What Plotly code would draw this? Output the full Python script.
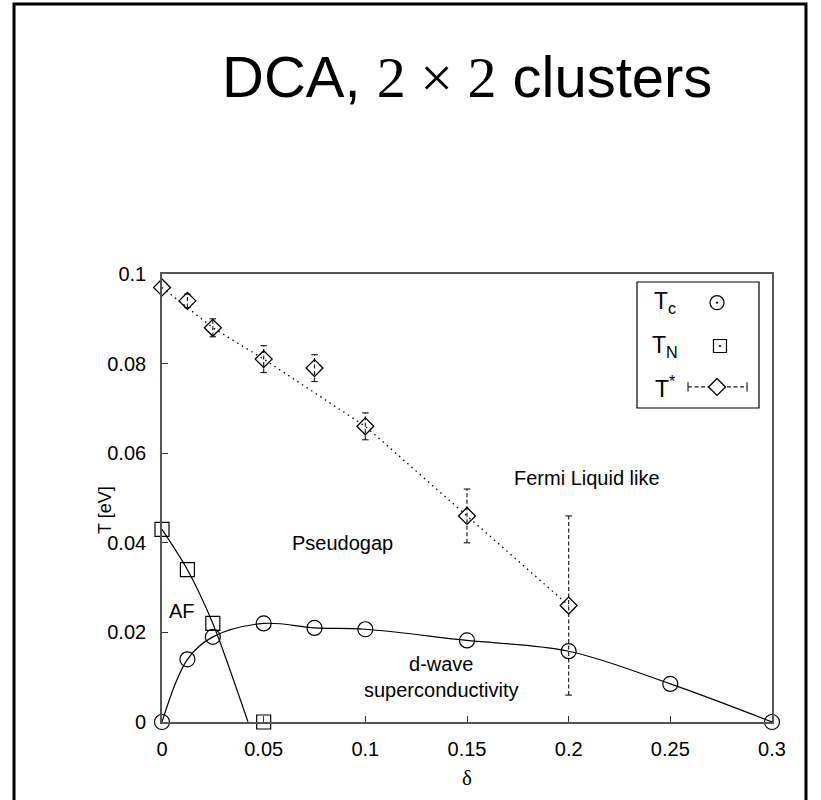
import plotly.graph_objects as go

# --- data -------------------------------------------------------------
# superconducting transition temperature T_c
TC_DELTA = [0.0, 0.0125, 0.025, 0.05, 0.075, 0.1, 0.15, 0.2, 0.25, 0.3]
TC_T = [0.0, 0.014, 0.019, 0.022, 0.021, 0.0207, 0.0182, 0.0158, 0.0085, 0.0]

# Neel temperature T_N
TN_DELTA = [0.0, 0.0125, 0.025, 0.05]
TN_T = [0.043, 0.034, 0.022, 0.0]
# fitted T_N curve (ends where it meets the axis)
TN_FIT_DELTA = [0.0, 0.0125, 0.025, 0.0423]
TN_FIT_T = [0.043, 0.034, 0.022, 0.0]

# pseudogap temperature T* with error bars
TS_DELTA = [0.0, 0.0125, 0.025, 0.05, 0.075, 0.1, 0.15, 0.2]
TS_T = [0.097, 0.094, 0.088, 0.081, 0.079, 0.066, 0.046, 0.026]
TS_ERR = [0.0, 0.0015, 0.002, 0.003, 0.003, 0.003, 0.006, 0.020]
# guide line for T*
TS_GUIDE_DELTA = [0.0, 0.025, 0.05, 0.1, 0.15, 0.2]
TS_GUIDE_T = [0.097, 0.088, 0.081, 0.066, 0.046, 0.026]

X_TICKS = [0, 0.05, 0.1, 0.15, 0.2, 0.25, 0.3]
X_TICK_TEXT = ["0", "0.05", "0.1", "0.15", "0.2", "0.25", "0.3"]
Y_TICKS = [0, 0.02, 0.04, 0.06, 0.08, 0.1]
Y_TICK_TEXT = ["0", "0.02", "0.04", "0.06", "0.08", "0.1"]

# --- styling ----------------------------------------------------------
SANS = "Liberation Sans, Helvetica, Arial, sans-serif"
SERIF = "Liberation Serif, Times New Roman, serif"
INK = "black"
FRAME = "#555555"
CAP_HALF = 0.0016  # half width of the error-bar caps, in delta units

fig = go.Figure()

# T_c curve
fig.add_trace(go.Scatter(
    x=TC_DELTA, y=TC_T, mode="lines",
    line=dict(color=INK, width=1.2, shape="spline", smoothing=1.0),
    hoverinfo="skip", showlegend=False))

# T_N fit curve
fig.add_trace(go.Scatter(
    x=TN_FIT_DELTA, y=TN_FIT_T, mode="lines",
    line=dict(color=INK, width=1.2, shape="spline", smoothing=0.8),
    hoverinfo="skip", showlegend=False))

# T* guide line (dotted)
fig.add_trace(go.Scatter(
    x=TS_GUIDE_DELTA, y=TS_GUIDE_T, mode="lines",
    line=dict(color=INK, width=1.3, dash="1.5px,4px"),
    hoverinfo="skip", showlegend=False))

# T* error bars: dashed vertical segments plus short caps
bar_x, bar_y, cap_x, cap_y = [], [], [], []
for d, t, e in zip(TS_DELTA, TS_T, TS_ERR):
    if e <= 0:
        continue
    bar_x += [d, d, None]
    bar_y += [t - e, t + e, None]
    for yy in (t - e, t + e):
        cap_x += [d - CAP_HALF, d + CAP_HALF, None]
        cap_y += [yy, yy, None]

fig.add_trace(go.Scatter(
    x=bar_x, y=bar_y, mode="lines",
    line=dict(color="#222222", width=1.2, dash="4px,2.5px"),
    hoverinfo="skip", showlegend=False))
fig.add_trace(go.Scatter(
    x=cap_x, y=cap_y, mode="lines",
    line=dict(color="#222222", width=1.2),
    hoverinfo="skip", showlegend=False))

# markers
fig.add_trace(go.Scatter(
    x=TC_DELTA, y=TC_T, mode="markers", name="T_c",
    marker=dict(symbol="circle-open", size=15, color=INK, line=dict(width=1.2, color=INK)),
    cliponaxis=False, showlegend=False))
fig.add_trace(go.Scatter(
    x=TN_DELTA, y=TN_T, mode="markers", name="T_N",
    marker=dict(symbol="square-open", size=14, color=INK, line=dict(width=1.2, color=INK)),
    cliponaxis=False, showlegend=False))
fig.add_trace(go.Scatter(
    x=TS_DELTA, y=TS_T, mode="markers", name="T*",
    marker=dict(symbol="diamond-open", size=13, color=INK, line=dict(width=1.3, color=INK)),
    cliponaxis=False, showlegend=False))

# --- key box drawn on an auxiliary 0..1 axis pair -----------------------
KEY_X = [0.7787, 0.9787]
KEY_Y = [0.7009, 0.9821]
fig.add_trace(go.Scatter(
    x=[0.656], y=[0.836], mode="markers", xaxis="x2", yaxis="y2",
    marker=dict(symbol="circle-open-dot", size=14, color=INK, line=dict(width=1.2, color=INK)),
    hoverinfo="skip", showlegend=False))
fig.add_trace(go.Scatter(
    x=[0.68], y=[0.492], mode="markers", xaxis="x2", yaxis="y2",
    marker=dict(symbol="square-open-dot", size=13, color=INK, line=dict(width=1.2, color=INK)),
    hoverinfo="skip", showlegend=False))
fig.add_trace(go.Scatter(
    x=[0.418, 0.902], y=[0.167, 0.167], mode="lines", xaxis="x2", yaxis="y2",
    line=dict(color="#222222", width=1.2, dash="4px,2.5px"),
    hoverinfo="skip", showlegend=False))
fig.add_trace(go.Scatter(
    x=[0.418, 0.418, None, 0.902, 0.902], y=[0.13, 0.205, None, 0.13, 0.205],
    mode="lines", xaxis="x2", yaxis="y2",
    line=dict(color="#222222", width=1.2),
    hoverinfo="skip", showlegend=False))
fig.add_trace(go.Scatter(
    x=[0.656], y=[0.167], mode="markers", xaxis="x2", yaxis="y2",
    marker=dict(symbol="diamond", size=13, color="white", line=dict(width=1.3, color=INK)),
    hoverinfo="skip", showlegend=False))

axis_common = dict(
    showline=True, linecolor=FRAME, linewidth=1.6, mirror=True,
    ticks="inside", ticklen=6, tickwidth=1, tickcolor="#333333",
    showgrid=False, zeroline=False,
    tickfont=dict(family=SANS, size=20, color=INK),
)

fig.update_layout(
    width=821, height=800,
    margin=dict(l=162, r=49, t=274, b=78),
    paper_bgcolor="white", plot_bgcolor="white",
    xaxis=dict(range=[0, 0.3], tickvals=X_TICKS, ticktext=X_TICK_TEXT,
               ticklabelstandoff=8, **axis_common),
    yaxis=dict(range=[0, 0.1], tickvals=Y_TICKS, ticktext=Y_TICK_TEXT,
               ticklabelstandoff=10, **axis_common),
    xaxis2=dict(domain=KEY_X, range=[0, 1], visible=False, anchor="y2"),
    yaxis2=dict(domain=KEY_Y, range=[0, 1], visible=False, anchor="x2"),
    showlegend=False,
)

shapes = [
    # key frame
    dict(type="rect", xref="paper", yref="paper",
         x0=KEY_X[0], x1=KEY_X[1], y0=KEY_Y[0], y1=KEY_Y[1],
         line=dict(color=INK, width=1.2), fillcolor="rgba(0,0,0,0)"),
    # outer page frame
    dict(type="rect", xref="paper", yref="paper",
         x0=-0.2426, x1=1.0557, y0=-0.19, y1=1.6027,
         line=dict(color=INK, width=3), fillcolor="rgba(0,0,0,0)"),
]
fig.update_layout(shapes=shapes)

annotations = [
    # title
    dict(xref="paper", yref="paper", x=0.5, y=1.44, xanchor="center", yanchor="middle",
         text="DCA, <span style=\"font-family:'Liberation Serif'\">2 × 2</span> clusters",
         showarrow=False, font=dict(family=SANS, size=58, color=INK)),
    # axis titles
    dict(xref="paper", yref="paper", x=(105 - 162) / 610, y=(722 - 510) / 448,
         xanchor="center", yanchor="middle", text="T [eV]", textangle=-90,
         showarrow=False, font=dict(family=SANS, size=18, color=INK)),
    dict(xref="paper", yref="paper", x=0.5, y=(722 - 778) / 448,
         xanchor="center", yanchor="middle", text="δ",
         showarrow=False, font=dict(family=SERIF, size=21, color=INK)),
    # region labels
    dict(x=0.0098, y=0.0248, text="AF", showarrow=False,
         font=dict(family=SANS, size=20, color=INK)),
    dict(x=0.089, y=0.040, text="Pseudogap", showarrow=False,
         font=dict(family=SANS, size=20, color=INK)),
    dict(x=0.209, y=0.0545, text="Fermi Liquid like", showarrow=False,
         font=dict(family=SANS, size=20, color=INK)),
    dict(x=0.1376, y=0.0101, text="d-wave<br>superconductivity", showarrow=False,
         font=dict(family=SANS, size=20, color=INK)),
    # key labels
    dict(xref="x2", yref="y2", x=0.23, y=0.836, text="T<sub>c</sub>", showarrow=False,
         font=dict(family=SANS, size=23, color=INK)),
    dict(xref="x2", yref="y2", x=0.23, y=0.492, text="T<sub>N</sub>", showarrow=False,
         font=dict(family=SANS, size=23, color=INK)),
    dict(xref="x2", yref="y2", x=0.23, y=0.167, text="T<sup>*</sup>", showarrow=False,
         font=dict(family=SANS, size=23, color=INK)),
]
fig.update_layout(annotations=annotations)

fig.write_html("out.html")
